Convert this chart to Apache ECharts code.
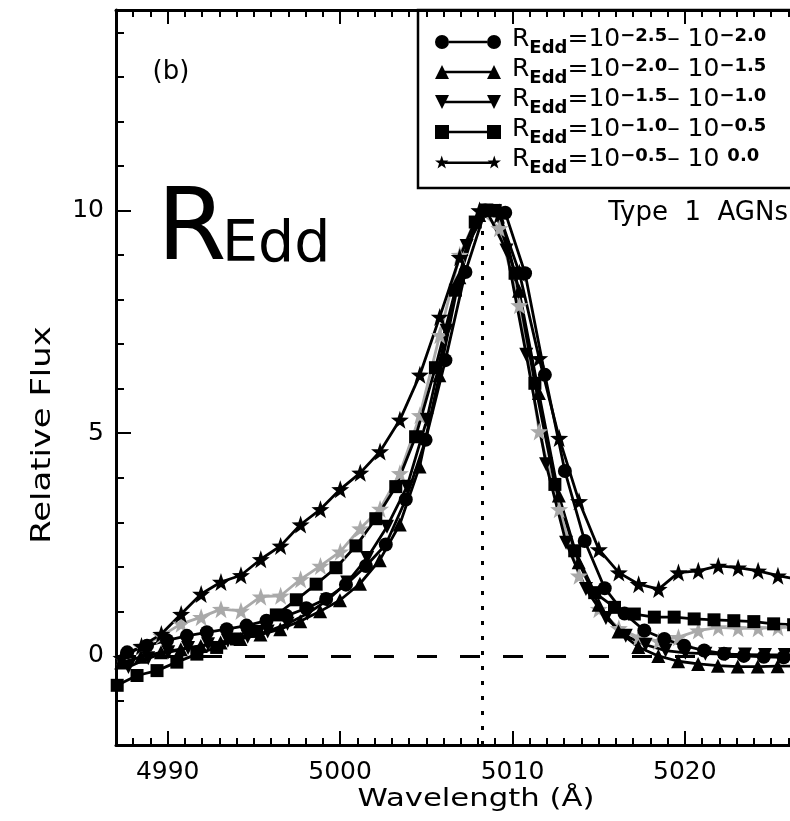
<!DOCTYPE html>
<html>
<head>
<meta charset="utf-8">
<script src="https://cdn.jsdelivr.net/npm/echarts@6/dist/echarts.min.js"></script>
<style>
html,body{margin:0;padding:0;background:#fff;overflow:hidden;}
#chart{width:880px;height:821px;}
</style>
</head>
<body>
<div id="chart"></div>
<script>
// wavelengths (A) and relative flux, one pair of arrays per R_Edd bin
var waveCircle = [4987.65, 4988.80, 4989.96, 4991.11, 4992.27, 4993.42, 4994.57, 4995.73, 4996.88, 4998.04, 4999.19, 5000.34, 5001.50, 5002.65, 5003.81, 5004.96, 5006.11, 5007.27, 5008.42, 5009.58, 5010.73, 5011.88, 5013.04, 5014.19, 5015.35, 5016.50, 5017.65, 5018.81, 5019.96, 5021.12, 5022.27, 5023.42, 5024.58, 5025.73, 5026.89, 5028.04];
var fluxCircle = [0.08, 0.23, 0.35, 0.45, 0.53, 0.60, 0.68, 0.79, 0.90, 1.07, 1.28, 1.60, 2.02, 2.50, 3.51, 4.85, 6.64, 8.62, 10.0, 9.95, 8.59, 6.31, 4.15, 2.58, 1.52, 0.95, 0.57, 0.38, 0.23, 0.12, 0.05, 0.00, -0.02, -0.03, -0.04, -0.04];

var waveTriUp = [4987.30, 4988.45, 4989.61, 4990.76, 4991.92, 4993.07, 4994.22, 4995.38, 4996.53, 4997.69, 4998.84, 4999.99, 5001.15, 5002.30, 5003.46, 5004.61, 5005.76, 5006.92, 5008.07, 5009.23, 5010.38, 5011.53, 5012.69, 5013.84, 5015.00, 5016.15, 5017.30, 5018.46, 5019.61, 5020.77, 5021.92, 5023.07, 5024.23, 5025.38, 5026.54, 5027.69];
var fluxTriUp = [-0.15, -0.02, 0.08, 0.15, 0.22, 0.30, 0.38, 0.48, 0.60, 0.78, 1.00, 1.25, 1.62, 2.15, 2.95, 4.25, 6.30, 8.50, 9.90, 10.0, 8.20, 5.90, 3.60, 2.10, 1.15, 0.55, 0.20, 0.00, -0.12, -0.18, -0.22, -0.24, -0.24, -0.23, -0.23, -0.22];

var waveTriDown = [4987.72, 4988.87, 4990.03, 4991.18, 4992.34, 4993.49, 4994.64, 4995.80, 4996.95, 4998.11, 4999.26, 5000.41, 5001.57, 5002.72, 5003.88, 5005.03, 5006.18, 5007.34, 5008.49, 5009.65, 5010.80, 5011.95, 5013.11, 5014.26, 5015.42, 5016.57, 5017.72, 5018.88, 5020.03, 5021.19, 5022.34, 5023.49, 5024.65, 5025.80, 5026.96, 5028.11];
var fluxTriDown = [-0.25, -0.05, 0.08, 0.18, 0.26, 0.34, 0.43, 0.55, 0.72, 0.95, 1.25, 1.65, 2.20, 2.90, 3.80, 5.30, 7.30, 9.20, 10.0, 9.10, 6.76, 4.30, 2.54, 1.50, 0.85, 0.45, 0.25, 0.12, 0.07, 0.05, 0.04, 0.03, 0.02, 0.02, 0.02, 0.02];

var waveSquare = [4987.07, 4988.22, 4989.38, 4990.53, 4991.69, 4992.84, 4993.99, 4995.15, 4996.30, 4997.46, 4998.61, 4999.76, 5000.92, 5002.07, 5003.23, 5004.38, 5005.53, 5006.69, 5007.84, 5009.00, 5010.15, 5011.30, 5012.46, 5013.61, 5014.77, 5015.92, 5017.07, 5018.23, 5019.38, 5020.54, 5021.69, 5022.84, 5024.00, 5025.15, 5026.31, 5027.46];
var fluxSquare = [-0.66, -0.44, -0.33, -0.14, 0.04, 0.19, 0.38, 0.55, 0.92, 1.26, 1.61, 1.98, 2.47, 3.08, 3.80, 4.92, 6.47, 8.21, 9.74, 10.0, 8.59, 6.12, 3.85, 2.36, 1.42, 1.09, 0.94, 0.87, 0.87, 0.83, 0.81, 0.79, 0.77, 0.72, 0.70, 0.69];

var waveStar = [4987.32, 4988.48, 4989.63, 4990.78, 4991.94, 4993.09, 4994.25, 4995.40, 4996.55, 4997.71, 4998.86, 5000.01, 5001.17, 5002.32, 5003.47, 5004.63, 5005.78, 5006.94, 5008.09, 5009.24, 5010.40, 5011.55, 5012.71, 5013.86, 5015.01, 5016.17, 5017.32, 5018.48, 5019.63, 5020.78, 5021.94, 5023.09, 5024.25, 5025.40, 5026.55, 5027.71];
var fluxStar = [-0.05, 0.22, 0.49, 0.94, 1.39, 1.66, 1.81, 2.17, 2.47, 2.95, 3.29, 3.74, 4.11, 4.59, 5.30, 6.31, 7.61, 8.95, 10.0, 9.90, 8.60, 6.68, 4.89, 3.47, 2.39, 1.87, 1.61, 1.50, 1.87, 1.91, 2.02, 1.98, 1.91, 1.80, 1.72, 1.65];
// grey comparison profile (no legend entry), same wavelength grid as the stars
var fluxStarGray = [-0.05, 0.20, 0.45, 0.72, 0.87, 1.05, 1.01, 1.33, 1.35, 1.72, 2.02, 2.34, 2.86, 3.30, 4.10, 5.40, 7.20, 9.00, 10.0, 9.60, 7.87, 5.04, 3.29, 1.80, 1.05, 0.62, 0.42, 0.33, 0.42, 0.57, 0.64, 0.62, 0.62, 0.64, 0.64, 0.64];

var lowExp = ['\u22122.5', '\u22122.0', '\u22121.5', '\u22121.0', '\u22120.5'];
var highExp = ['\u22122.0', '\u22121.5', '\u22121.0', '\u22120.5', '0.0'];
var seriesNames = ['REdd 1', 'REdd 2', 'REdd 3', 'REdd 4', 'REdd 5'];

var xMajor = [4990, 5000, 5010, 5020];
var yMajor = [0, 5, 10];
var lineCenter = 5008.24;

var FONT = 'DejaVu Sans';

var xMinor = [];
for (var v = 4988; v <= 5028; v++) xMinor.push(v);
var yMinor = [];
for (var w = -1; w <= 14; w++) yMinor.push(w);

function starPath(ox, size) {
    var c = size / 2, p = [];
    for (var k = 0; k < 10; k++) {
        var a = -Math.PI / 2 + k * Math.PI / 5;
        var r = k % 2 ? c * 0.4 : c;
        p.push((k ? 'L' : 'M') + (ox + c + r * Math.cos(a)).toFixed(2) + ',' + (c + r * Math.sin(a)).toFixed(2));
    }
    return p.join('') + 'Z';
}
var starSymbol = 'path://' + starPath(0, 14);

var lineBar = 'M14,5.8H52V8.2H14Z';
var iconCircle = 'path://M0,7A7,7,0,1,1,14,7A7,7,0,1,1,0,7Z ' + lineBar + ' M52,7A7,7,0,1,1,66,7A7,7,0,1,1,52,7Z';
var iconUp = 'path://M0,14L7,0L14,14Z M10,5.8H56V8.2H10Z M52,14L59,0L66,14Z';
var iconDown = 'path://M0,0H14L7,14Z M10,5.8H56V8.2H10Z M52,0H66L59,14Z';
var iconSquare = 'path://M0,0H14V14H0Z ' + lineBar + ' M52,0H66V14H52Z';
var iconStar = 'path://' + starPath(0, 14) + ' M10,5.8H56V8.2H10Z ' + starPath(52, 14);

function pairs(wave, flux) {
    return wave.map(function (x, i) { return [x, flux[i]]; });
}

function profile(name, wave, flux, symbol, size, color, rotate) {
    return {
        name: name,
        type: 'line',
        data: pairs(wave, flux),
        symbol: symbol,
        symbolSize: size,
        symbolRotate: rotate || 0,
        showAllSymbol: true,
        clip: true,
        lineStyle: {color: color, width: 2.8},
        itemStyle: {color: color},
        emphasis: {disabled: true}
    };
}

var grey = profile('grey', waveStar, fluxStarGray, starSymbol, 18, '#a9a9a9');
grey.markLine = {
    silent: true,
    symbol: ['none', 'none'],
    label: {show: false},
    data: [
        {yAxis: 0, lineStyle: {color: '#000', width: 3, type: [20, 23]}},
        [{coord: [lineCenter, -2], lineStyle: {color: '#000', width: 3, type: [4, 11]}}, {coord: [lineCenter, 10]}]
    ]
};

var series = [
    grey,
    profile(seriesNames[4], waveStar, fluxStar, starSymbol, 18, '#000'),
    profile(seriesNames[3], waveSquare, fluxSquare, 'rect', 13, '#000'),
    profile(seriesNames[2], waveTriDown, fluxTriDown, 'triangle', 14, '#000', 180),
    profile(seriesNames[1], waveTriUp, fluxTriUp, 'triangle', 14, '#000'),
    profile(seriesNames[0], waveCircle, fluxCircle, 'circle', 14, '#000')
];

var tickLine = {color: '#000', width: 2};
function plain(val) { return String(val); }

function xAx(pos, ticks, len, main) {
    return {
        type: 'value', min: 4987, max: 5029, position: pos,
        axisLine: {show: main, onZero: false, lineStyle: {color: '#000', width: 3}},
        axisTick: {inside: true, length: len, customValues: ticks, lineStyle: tickLine},
        axisLabel: main && pos === 'bottom'
            ? {customValues: xMajor, formatter: plain, margin: 15, color: '#000', fontSize: 25, fontFamily: FONT}
            : {show: false},
        splitLine: {show: false}
    };
}

function yAx(ticks, len, main) {
    return {
        type: 'value', min: -2, max: 14.5, position: 'left',
        axisLine: {show: main, onZero: false, lineStyle: {color: '#000', width: 3}},
        axisTick: {inside: true, length: len, customValues: ticks, lineStyle: tickLine},
        axisLabel: main
            ? {customValues: yMajor, formatter: plain, margin: 12, color: '#000', fontSize: 25, fontFamily: FONT}
            : {show: false},
        splitLine: {show: false}
    };
}

var myChart = echarts.init(document.getElementById('chart'), null, {renderer: 'canvas'});

var option = {
    animation: false,
    backgroundColor: '#fff',
    grid: {left: 116, top: 10, width: 724, height: 735, containLabel: false},
    xAxis: [
        xAx('bottom', xMinor, 7, true),
        xAx('bottom', xMajor, 14, false),
        xAx('top', xMinor, 7, true),
        xAx('top', xMajor, 14, false)
    ],
    yAxis: [
        yAx(yMinor, 8, true),
        yAx(yMajor, 15, false)
    ],
    legend: {
        left: 418, top: 10,
        orient: 'vertical',
        itemWidth: 66, itemHeight: 14, itemGap: 0,
        padding: [17, 70, 11, 17],
        borderColor: '#000', borderWidth: 2.5,
        selectedMode: false,
        data: [
            {name: seriesNames[0], icon: iconCircle},
            {name: seriesNames[1], icon: iconUp},
            {name: seriesNames[2], icon: iconDown},
            {name: seriesNames[3], icon: iconSquare},
            {name: seriesNames[4], icon: iconStar}
        ],
        formatter: function (name) {
            var i = seriesNames.indexOf(name);
            var ten = i === 4 ? '{m|\u2013 10 }' : '{m|\u2013 10}';
            return '{r|R}{sub|Edd}{m|=10}{sup|' + lowExp[i] + '}' + ten + '{sup|' + highExp[i] + '}';
        },
        textStyle: {
            color: '#000',
            rich: {
                r: {fontSize: 25, fontFamily: FONT, lineHeight: 30, verticalAlign: 'top', padding: [0, 0, 0, 6], color: '#000'},
                m: {fontSize: 25, fontFamily: FONT, lineHeight: 30, verticalAlign: 'top', padding: [0, 0, 0, 0], color: '#000'},
                sup: {fontSize: 18, fontFamily: FONT, fontWeight: 'bold', lineHeight: 30, verticalAlign: 'top', color: '#000'},
                sub: {fontSize: 18, fontFamily: FONT, fontWeight: 'bold', lineHeight: 30, verticalAlign: 'top', padding: [12, 0, 0, 0], color: '#000'}
            }
        }
    },
    graphic: [
        {type: 'text', x: 171, y: 72, silent: true,
            style: {text: '(b)', fontSize: 26, fontFamily: FONT, fill: '#000', align: 'center', verticalAlign: 'middle'}},
        {type: 'text', x: 157, y: 233, silent: true,
            style: {text: 'R', fontSize: 100, fontFamily: FONT, fill: '#000', align: 'left', verticalAlign: 'middle'}},
        {type: 'text', x: 222, y: 246, silent: true,
            style: {text: 'Edd', fontSize: 57, fontFamily: FONT, fill: '#000', align: 'left', verticalAlign: 'middle'}},
        {type: 'text', x: 788, y: 213, silent: true,
            style: {text: 'Type  1  AGNs', fontSize: 26, fontFamily: FONT, fill: '#000', align: 'right', verticalAlign: 'middle'}},
        {type: 'text', x: 476, y: 800, scaleX: 1.28, silent: true,
            style: {text: 'Wavelength (\u00c5)', fontSize: 24, fontFamily: FONT, fill: '#000', align: 'center', verticalAlign: 'middle'}},
        {type: 'text', x: 43, y: 435, rotation: Math.PI / 2, scaleX: 1.3, silent: true,
            style: {text: 'Relative Flux', fontSize: 26, fontFamily: FONT, fill: '#000', align: 'center', verticalAlign: 'middle'}}
    ],
    series: series
};

myChart.setOption(option);
</script>
</body>
</html>
